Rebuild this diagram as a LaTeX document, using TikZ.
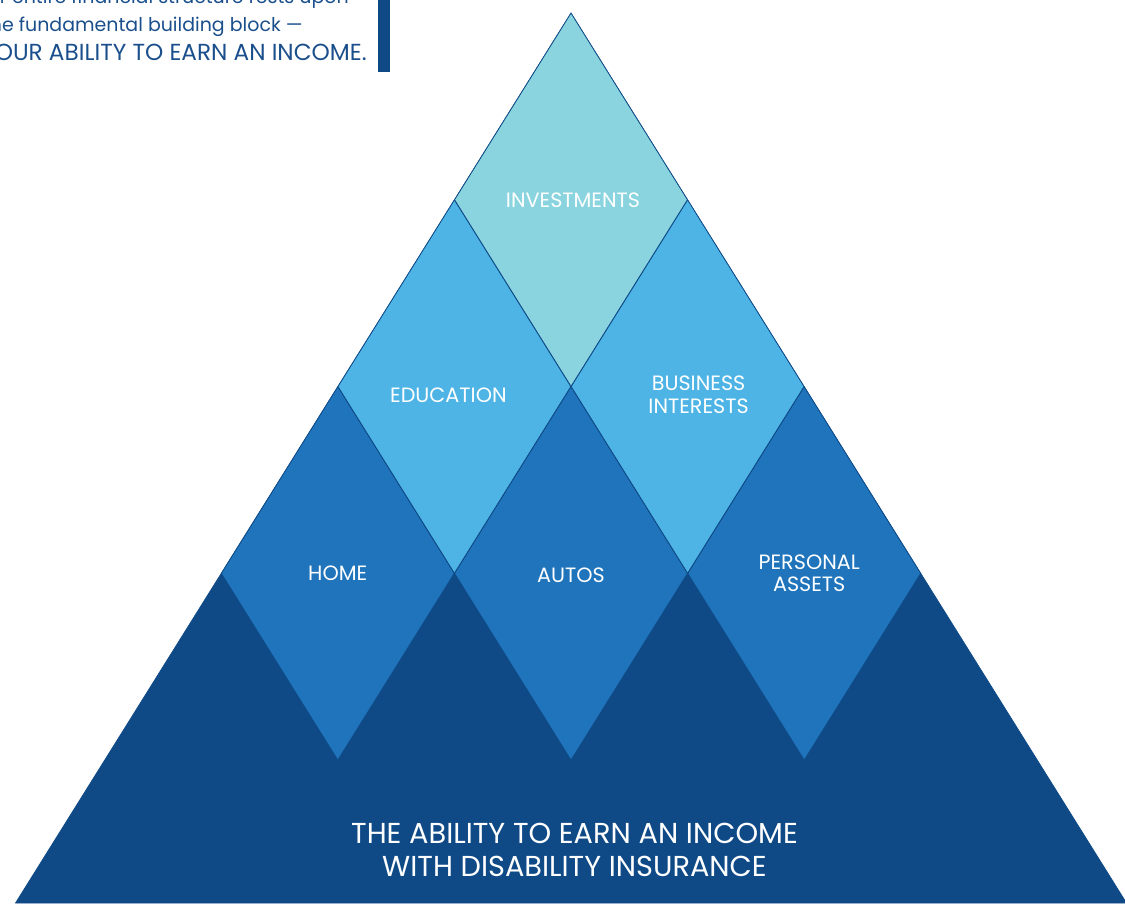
\documentclass[tikz,border=0pt]{standalone}
\usepackage{fontspec}
\setmainfont{Poppins}
\usetikzlibrary{shapes.geometric}

\definecolor{navy}{HTML}{0F4A87}
\definecolor{midblue}{HTML}{1F74BB}
\definecolor{skyblue}{HTML}{4DB4E5}
\definecolor{aqua}{HTML}{89D4DF}
\definecolor{notetext}{HTML}{1A4F8C}

\begin{document}
\begin{tikzpicture}[
    x=0.02cm, y=-0.02cm,
    tile/.style={diamond, draw=navy, line width=0.4pt, minimum width=4.664cm, minimum height=7.472cm, inner sep=0},
    tiletext/.style={text=white, align=center, font=\fontsize{11.8}{12.8}\selectfont},
    base/.style={fill=navy, draw=navy, line width=0.4pt},
    tag/.style={text=white, align=center, font=\fontsize{16.4}{18.7}\selectfont},
    note/.style={text=notetext, inner sep=0, anchor=base east, font=\fontsize{10.8}{14}\selectfont},
    notecaps/.style={note, font=\fontsize{13.2}{16.4}\selectfont}
    ]

    \useasboundingbox (0,0) rectangle (1125,903);
    \clip (0,0) rectangle (1125,903);

    % Base triangle
    \coordinate (apex) at (571,13);
    \coordinate (left) at (15.5,903);
    \coordinate (right) at (1126.5,903);
    \draw[base] (apex) -- (left) -- (right) -- cycle;

    % Tiles
    \node[tile, fill=aqua] (invest) at (571,199.8) {};
    \node[tile, fill=skyblue] (edu) at (454.4,386.6) {};
    \node[tile, fill=skyblue] (biz) at (687.6,386.6) {};
    \node[tile, fill=midblue] (home) at (337.8,573.4) {};
    \node[tile, fill=midblue] (autos) at (571,573.4) {};
    \node[tile, fill=midblue] (assets) at (804.2,573.4) {};

    % Tile labels
    \node[tiletext] (investText) at ([shift={(2,0)}]invest) {INVESTMENTS};
    \node[tiletext] (eduText) at ([shift={(-6,9)}]edu) {EDUCATION};
    \node[tiletext] (bizText) at ([shift={(11,8)}]biz) {BUSINESS\\INTERESTS};
    \node[tiletext] (homeText) at (home) {HOME};
    \node[tiletext] (autosText) at ([shift={(0,2)}]autos) {AUTOS};
    \node[tiletext] (assetsText) at ([shift={(5,0)}]assets) {PERSONAL\\ASSETS};

    % Base label
    \node[tag] (income) at (574.5,849.5) {THE ABILITY TO EARN AN INCOME\\WITH DISABILITY INSURANCE};

    % Side note
    \node[note] (leadA) at (349,3) {Your entire financial structure rests upon};
    \node[note] (leadB) at (303,31.5) {the fundamental building block —};
    \node[notecaps] (leadC) at (367,60) {YOUR ABILITY TO EARN AN INCOME.};
    \fill[navy] (378,0) rectangle (390,72);

\end{tikzpicture}
\end{document}
